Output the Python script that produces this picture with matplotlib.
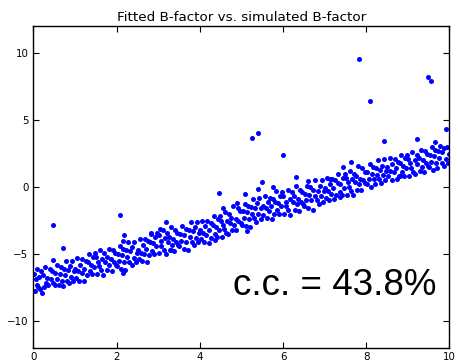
import matplotlib
matplotlib.use('Agg')
import matplotlib.pyplot as plt

# main band of points (simulated B-factor, fitted B-factor)
band_x = [
    0.02, 0.04, 0.06, 0.08, 0.10, 0.12, 0.14, 0.16, 0.19, 0.21, 0.23, 0.26, 0.28, 0.31, 0.34, 0.36, 0.39, 0.42, 0.45, 0.48,
    0.51, 0.53, 0.56, 0.58, 0.61, 0.63, 0.66, 0.68, 0.71, 0.73, 0.76, 0.78, 0.81, 0.83, 0.86, 0.88, 0.91, 0.93, 0.96, 0.98,
    1.01, 1.03, 1.06, 1.08, 1.11, 1.13, 1.16, 1.18, 1.21, 1.23, 1.26, 1.28, 1.31, 1.33, 1.36, 1.38, 1.41, 1.43, 1.46, 1.48,
    1.51, 1.53, 1.56, 1.58, 1.61, 1.63, 1.66, 1.68, 1.71, 1.73, 1.76, 1.78, 1.81, 1.83, 1.86, 1.88, 1.91, 1.93, 1.96, 1.98,
    2.01, 2.03, 2.06, 2.08, 2.11, 2.13, 2.16, 2.18, 2.21, 2.23, 2.26, 2.28, 2.31, 2.33, 2.36, 2.38, 2.41, 2.43, 2.46, 2.48,
    2.51, 2.53, 2.56, 2.58, 2.61, 2.63, 2.66, 2.68, 2.71, 2.73, 2.76, 2.78, 2.81, 2.83, 2.86, 2.88, 2.91, 2.93, 2.96, 2.98,
    3.01, 3.03, 3.06, 3.08, 3.11, 3.13, 3.16, 3.18, 3.21, 3.23, 3.26, 3.28, 3.31, 3.33, 3.36, 3.38, 3.41, 3.43, 3.46, 3.48,
    3.51, 3.53, 3.56, 3.58, 3.61, 3.63, 3.66, 3.68, 3.71, 3.73, 3.76, 3.78, 3.81, 3.83, 3.86, 3.88, 3.91, 3.93, 3.96, 3.98,
    4.01, 4.03, 4.06, 4.08, 4.11, 4.13, 4.16, 4.18, 4.21, 4.23, 4.26, 4.28, 4.31, 4.33, 4.36, 4.38, 4.41, 4.43, 4.46, 4.48,
    4.51, 4.53, 4.56, 4.58, 4.61, 4.63, 4.66, 4.68, 4.71, 4.73, 4.76, 4.78, 4.81, 4.83, 4.86, 4.88, 4.91, 4.93, 4.96, 4.98,
    5.01, 5.03, 5.06, 5.08, 5.11, 5.13, 5.16, 5.18, 5.21, 5.23, 5.26, 5.28, 5.31, 5.33, 5.36, 5.38, 5.41, 5.43, 5.46, 5.48,
    5.51, 5.53, 5.56, 5.58, 5.61, 5.63, 5.66, 5.68, 5.71, 5.73, 5.76, 5.78, 5.81, 5.83, 5.86, 5.88, 5.91, 5.93, 5.96, 5.98,
    6.01, 6.03, 6.06, 6.08, 6.11, 6.13, 6.16, 6.18, 6.21, 6.23, 6.26, 6.28, 6.31, 6.33, 6.36, 6.38, 6.41, 6.43, 6.46, 6.48,
    6.51, 6.53, 6.56, 6.58, 6.61, 6.63, 6.66, 6.68, 6.71, 6.73, 6.76, 6.78, 6.81, 6.83, 6.86, 6.88, 6.91, 6.93, 6.96, 6.98,
    7.01, 7.03, 7.06, 7.08, 7.11, 7.13, 7.16, 7.18, 7.21, 7.23, 7.26, 7.28, 7.31, 7.33, 7.36, 7.38, 7.41, 7.43, 7.46, 7.48,
    7.51, 7.53, 7.56, 7.58, 7.61, 7.63, 7.66, 7.68, 7.71, 7.73, 7.76, 7.78, 7.81, 7.83, 7.86, 7.88, 7.91, 7.93, 7.96, 7.98,
    8.01, 8.03, 8.06, 8.08, 8.11, 8.13, 8.16, 8.18, 8.21, 8.23, 8.26, 8.28, 8.31, 8.33, 8.36, 8.38, 8.41, 8.43, 8.46, 8.48,
    8.51, 8.53, 8.56, 8.58, 8.61, 8.63, 8.66, 8.68, 8.71, 8.73, 8.76, 8.78, 8.81, 8.83, 8.86, 8.88, 8.91, 8.93, 8.96, 8.98,
    9.01, 9.03, 9.06, 9.08, 9.11, 9.13, 9.16, 9.18, 9.21, 9.23, 9.26, 9.28, 9.31, 9.33, 9.36, 9.38, 9.41, 9.43, 9.46, 9.48,
    9.51, 9.53, 9.56, 9.58, 9.61, 9.63, 9.66, 9.68, 9.71, 9.73, 9.76, 9.78, 9.81, 9.83, 9.86, 9.88, 9.91, 9.93, 9.96, 9.98,
]
band_y = [
    -6.5, -7.8, -6.9, -7.3, -6.1, -7.5, -6.7, -7.6, -6.3, -7.9, -6.6, -7.5, -6.0, -7.2, -6.8, -7.3, -6.1, -6.9, -6.3, -7.2,
    -7.3, -6.4, -6.9, -5.8, -7.3, -6.5, -6.0, -7.0, -7.4, -6.1, -6.6, -5.5, -7.0, -6.2, -7.2, -5.9, -6.7, -5.5, -7.0, -6.3,
    -6.1, -6.8, -5.3, -6.3, -7.0, -5.8, -6.4, -5.4, -6.1, -7.0, -5.5, -6.6, -5.6, -5.0, -6.3, -5.8, -6.5, -5.2, -6.0, -4.9,
    -5.2, -6.5, -5.6, -5.9, -4.7, -6.2, -5.4, -6.6, -4.9, -5.6, -5.2, -6.2, -4.6, -5.8, -5.4, -6.3, -4.7, -5.6, -4.9, -5.8,
    -5.9, -5.0, -5.5, -4.4, -6.1, -5.1, -4.6, -5.6, -6.2, -4.7, -5.2, -4.1, -5.6, -4.8, -5.8, -4.5, -5.3, -4.1, -5.6, -4.9,
    -4.7, -5.4, -3.9, -4.9, -5.5, -4.3, -5.0, -3.9, -4.6, -5.6, -4.0, -5.1, -4.1, -3.4, -4.8, -4.2, -5.0, -3.7, -4.4, -3.4,
    -3.6, -4.9, -4.0, -4.4, -3.2, -4.7, -3.8, -5.0, -3.4, -4.1, -3.7, -4.7, -3.0, -4.3, -3.9, -4.8, -3.2, -4.1, -3.4, -4.3,
    -4.4, -3.5, -4.0, -2.9, -4.6, -3.6, -3.1, -4.1, -4.7, -3.2, -3.7, -2.6, -4.1, -3.3, -4.3, -3.0, -3.8, -2.6, -4.1, -3.4,
    -3.2, -3.9, -2.5, -3.4, -4.1, -2.9, -3.6, -2.5, -3.2, -4.2, -2.7, -3.8, -2.8, -2.2, -3.5, -3.0, -3.7, -2.4, -3.2, -2.2,
    -2.5, -3.7, -2.8, -3.1, -1.9, -3.4, -2.5, -3.5, -2.0, -2.7, -2.3, -3.2, -1.4, -2.8, -2.4, -3.2, -1.6, -2.5, -1.8, -2.7,
    -2.8, -1.8, -2.3, -1.3, -2.9, -1.9, -1.4, -2.4, -3.0, -1.5, -2.0, -0.9, -2.3, -1.6, -2.6, -1.2, -2.0, -0.8, -2.4, -1.6,
    -1.4, -2.1, -0.7, -1.6, -2.3, -1.1, -1.8, -0.8, -1.4, -2.4, -0.9, -2.0, -1.1, -0.3, -1.7, -1.2, -2.0, -0.7, -1.4, -0.4,
    -0.7, -2.0, -1.1, -1.4, -0.2, -1.7, -0.9, -2.1, -0.4, -1.1, -0.7, -1.7, 0.1, -1.3, -0.9, -1.8, -0.2, -1.1, -0.4, -1.3,
    -1.4, -0.5, -1.0, 0.1, -1.6, -0.6, 0.0, -1.0, -1.7, -0.2, -0.7, 0.5, -1.0, -0.3, -1.3, 0.1, -0.7, 0.5, -1.1, -0.3,
    -0.1, -0.8, 0.7, -0.3, -1.0, 0.2, -0.5, 0.6, -0.1, -0.9, 0.5, -0.6, 0.3, 1.0, -0.4, 0.2, -0.6, 0.7, -0.1, 1.0,
    0.7, -0.6, 0.4, 0.0, 1.2, -0.3, 0.6, -0.6, 1.0, 0.4, 0.8, -0.2, 1.6, 0.2, 0.6, -0.2, 1.4, 0.5, 1.1, 0.3,
    0.2, 1.1, 0.6, 1.7, 0.0, 1.0, 1.5, 0.6, 0.2, 1.4, 0.9, 2.0, 0.6, 1.3, 0.3, 1.6, 0.9, 2.1, 0.5, 1.2,
    1.5, 0.8, 2.2, 1.2, 0.5, 1.7, 1.1, 2.1, 1.4, 0.6, 1.9, 0.8, 1.8, 2.4, 1.1, 1.6, 0.8, 2.2, 1.4, 2.4,
    2.1, 0.8, 1.8, 1.4, 2.6, 1.1, 2.0, 1.0, 2.4, 1.7, 2.2, 1.2, 2.8, 1.5, 2.0, 1.1, 2.7, 1.8, 2.5, 1.6,
    1.5, 2.4, 1.9, 3.0, 1.3, 2.3, 2.8, 1.8, 1.4, 2.7, 2.2, 3.1, 1.8, 2.6, 1.6, 2.9, 2.1, 3.0, 1.8, 2.5,
]

# points that sit away from the band
outlier_x = [7.82, 8.08, 9.49, 9.56, 5.25, 5.39, 6.00, 0.48, 2.09, 0.72, 4.47, 4.55, 3.18, 2.18, 2.16,
             8.43, 9.22, 9.66, 9.92, 7.44, 7.64, 6.31, 5.49, 5.77, 5.09, 5.41, 4.89, 6.61, 7.13, 3.05,
             2.82, 5.13, 4.37, 7.36, 8.81, 2.15, 3.30, 0.47]
outlier_y = [9.60, 6.45, 8.19, 7.91, 3.70, 4.03, 2.39, -2.83, -2.10, -4.52, -0.42, -1.60, -2.63, -3.56, -4.03,
             3.43, 3.60, 3.36, 4.33, 1.49, 1.87, 0.75, 0.35, 0.00, -0.50, -0.12, -1.19, 0.45, 0.62, -3.16,
             -3.53, -3.28, -3.98, -0.72, 0.80, -6.39, -4.72, -5.42]

cc_text = 'c.c. = 43.8%'

fig = plt.figure(figsize=(4.58, 3.63), dpi=100)
ax = fig.add_axes([0.0727, 0.0424, 0.9087, 0.8846])

ax.plot(band_x, band_y, 'o', color='b', ms=3.6, mew=0)
ax.plot(outlier_x, outlier_y, 'o', color='b', ms=3.6, mew=0)

ax.set_xlim(0, 10)
ax.set_ylim(-12, 12)
ax.set_xticks([0, 2, 4, 6, 8, 10])
ax.set_yticks([-10, -5, 0, 5, 10])
ax.tick_params(direction='in', length=4, width=0.8, labelsize=7.4, pad=3.5,
               top=True, right=True)
for s in ax.spines.values():
    s.set_linewidth(1.0)

ax.set_title('Fitted B-factor vs. simulated B-factor', fontsize=9.7, pad=4)
ax.text(4.80, -8.08, cc_text, fontsize=26.5, family='Liberation Sans',
        ha='left', va='baseline')

fig.savefig('out.png', dpi=100)
